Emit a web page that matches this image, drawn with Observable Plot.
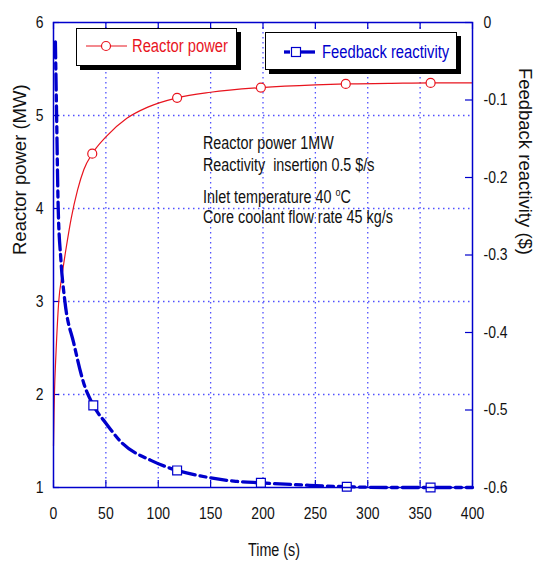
<!DOCTYPE html>
<html><head><meta charset="utf-8">
<script src="https://cdn.jsdelivr.net/npm/d3@7"></script>
<script src="https://cdn.jsdelivr.net/npm/@observablehq/plot@0.6"></script>
<style>
body{margin:0;background:#fff;}
#wrap{position:relative;width:536px;height:567px;overflow:hidden;background:#fff;}
.sq{font-family:"Liberation Sans",Arial,sans-serif;transform:scaleX(0.82);transform-origin:0 50%;}
.box{position:absolute;border:1.5px solid #000;background:#fff;box-shadow:4px 4px 0 #000;box-sizing:border-box;}
.lt{position:absolute;font-size:18px;line-height:20px;white-space:pre;}
.note{position:absolute;left:203px;font-size:17.5px;line-height:20px;color:#111;white-space:pre;}
.note sup{font-size:11px;vertical-align:0;position:relative;top:-7px;}
svg.sym{position:absolute;left:0;top:0;overflow:visible;}
</style></head>
<body><div id="wrap"></div>
<script>
// ---- data ----
const time  = [0, 0.5, 1, 2, 3, 5, 8, 12, 17, 23, 29, 37, 50, 70, 90, 118, 150, 198, 250, 279, 320, 360, 400];
const power = [1.45, 1.8, 2.05, 2.35, 2.6, 3.0, 3.27, 3.57, 3.9, 4.2, 4.42, 4.59, 4.77, 4.97, 5.09, 5.19, 5.25, 5.3, 5.33, 5.34, 5.345, 5.35, 5.35];
const rTime = [1.8, 2.9, 4.5, 7, 10.8, 19.4, 29, 38, 50, 65, 93, 118, 140, 174, 198, 242, 280, 320, 360, 400];
const react = [-0.025, -0.114, -0.24, -0.305, -0.359, -0.414, -0.466, -0.494, -0.517, -0.542, -0.565, -0.578, -0.585, -0.592, -0.594, -0.597, -0.599, -0.6, -0.6, -0.6];
const powerMarkT = [37, 118, 198, 279, 360];
const reactMarkT = [38, 118, 198, 280, 360];
const xTicks = [0, 50, 100, 150, 200, 250, 300, 350, 400];
const yTicks = [1, 2, 3, 4, 5, 6];
const rTicks = [0, -0.1, -0.2, -0.3, -0.4, -0.5, -0.6];
const labels = {x: "Time (s)", yLeft: "Reactor power (MW)", yRight: "Feedback reactivity ($)"};
const legendNames = ["Reactor power", "Feedback reactivity"];
const notes = ["Reactor power 1MW", "Reactivity  insertion 0.5 $/s", "Inlet temperature 40 ", "Core coolant flow rate 45 kg/s"];

// ---- layout ----
const W = 536, H = 567, mL = 53, mR = 64, mT = 22, mB = 80;
const innerW = W - mL - mR, innerH = H - mT - mB;
const blue = "#0000cc", red = "#e8141e", gridC = "#5050ff";
const font = '"Liberation Sans",Arial,sans-serif';
const squeeze = 0.82;
const toP = r => 6 + r * 5 / 0.6;
const rLabel = new Map(rTicks.map(r => [+toP(r).toFixed(6), r === 0 ? "0" : r.toFixed(1)]));

const powerData = time.map((t, i) => ({t, v: power[i]}));
const reactData = rTime.map((t, i) => ({t, v: toP(react[i])}));

const chart = Plot.plot({
  width: W, height: H, marginLeft: mL, marginRight: mR, marginTop: mT, marginBottom: mB,
  style: {fontFamily: font, fontSize: "17px", color: "#111", background: "transparent"},
  x: {domain: [0, 400], label: null},
  y: {domain: [1, 6], label: null},
  marks: [
    Plot.ruleX(xTicks.slice(1, -1), {x: d => d, stroke: gridC, strokeWidth: 1.3, strokeDasharray: "1.5,3.5"}),
    Plot.ruleY(yTicks.slice(1, -1), {y: d => d, stroke: gridC, strokeWidth: 1.3, strokeDasharray: "1.5,3.5"}),
    Plot.tickX(xTicks, {x: d => d, stroke: blue, strokeWidth: 1.2, insetTop: innerH - 7}),
    Plot.tickX(xTicks, {x: d => d, stroke: blue, strokeWidth: 1.2, insetBottom: innerH - 7}),
    Plot.tickY(yTicks, {y: d => d, stroke: blue, strokeWidth: 1.2, insetRight: innerW - 6}),
    Plot.tickY(rTicks.map(toP), {y: d => d, stroke: blue, strokeWidth: 1.2, insetLeft: innerW - 7}),
    Plot.axisX(xTicks, {tickSize: 0, tickPadding: 19, fontSize: 17, label: null, tickFormat: d => String(d)}),
    Plot.axisY(yTicks, {anchor: "left", tickSize: 0, tickPadding: 10, fontSize: 17, label: null, tickFormat: d => String(d)}),
    Plot.axisY(rTicks.map(toP), {anchor: "right", tickSize: 0, tickPadding: 11, fontSize: 17, label: null,
      tickFormat: p => rLabel.get(+p.toFixed(6))}),
    Plot.line(powerData, {x: "t", y: "v", stroke: red, strokeWidth: 1.2, curve: "monotone-x"}),
    Plot.line(reactData, {x: "t", y: "v", stroke: blue, strokeWidth: 3.3, strokeDasharray: "16,5,6,5", curve: "monotone-x"}),
    Plot.dot(powerData.filter(d => powerMarkT.includes(d.t)), {x: "t", y: "v", r: 4.5, stroke: red, strokeWidth: 1.2, fill: "white"}),
    Plot.dot(reactData.filter(d => reactMarkT.includes(d.t)), {x: "t", y: "v", r: 5, symbol: "square", stroke: blue, strokeWidth: 1.2, fill: "white"}),
    Plot.frame({stroke: blue, strokeWidth: 1.5}),
    Plot.text([labels.x], {text: d => d, frameAnchor: "bottom", dx: 11, dy: 68, fontSize: 17.5, fill: "#111"}),
    Plot.text([labels.yLeft], {text: d => d, frameAnchor: "left", dx: -33, rotate: -90, fontSize: 18.5, fill: "#111"}),
    Plot.text([labels.yRight], {text: d => d, frameAnchor: "right", dx: 52, rotate: 90, fontSize: 18.5, fill: "#111"})
  ]
});

const wrap = document.getElementById("wrap");
wrap.appendChild(chart);

// horizontally condense the horizontal texts (the reference uses a narrow face)
chart.querySelectorAll("text").forEach(t => {
  const tr = t.getAttribute("transform") || "";
  const m = tr.match(/rotate\((-?[\d.]+)/);
  if (m && +m[1] !== 0) return;
  const len = t.getComputedTextLength();
  if (len > 0) {
    t.setAttribute("textLength", len * squeeze);
    t.setAttribute("lengthAdjust", "spacingAndGlyphs");
  }
});

// ---- legends ----
function addBox(l, t, w, h) {
  const b = document.createElement("div");
  b.className = "box";
  Object.assign(b.style, {left: l + "px", top: t + "px", width: w + "px", height: h + "px"});
  wrap.appendChild(b);
}
addBox(76, 28, 161, 38);
addBox(265, 32, 192, 38);

const ns = "http://www.w3.org/2000/svg";
const sym = document.createElementNS(ns, "svg");
sym.setAttribute("class", "sym");
sym.setAttribute("width", W); sym.setAttribute("height", H);
sym.innerHTML = `
  <line x1="86" y1="46" x2="127" y2="46" stroke="${red}" stroke-width="1.2"/>
  <circle cx="106" cy="46" r="4.5" stroke="${red}" stroke-width="1.2" fill="white"/>
  <line x1="284" y1="52" x2="290" y2="52" stroke="${blue}" stroke-width="3.3"/>
  <line x1="300" y1="52" x2="315" y2="52" stroke="${blue}" stroke-width="3.3"/>
  <rect x="291.5" y="47.5" width="9" height="9" stroke="${blue}" stroke-width="1.2" fill="white"/>`;
wrap.appendChild(sym);

function addText(txt, l, cy, color) {
  const d = document.createElement("div");
  d.className = "lt sq";
  d.textContent = txt;
  Object.assign(d.style, {left: l + "px", top: (cy - 10) + "px", color});
  wrap.appendChild(d);
}
addText(legendNames[0], 132, 46, red);
addText(legendNames[1], 322, 52, blue);

// ---- annotation ----
const noteCY = [143, 165, 197, 217];
notes.forEach((n, i) => {
  const d = document.createElement("div");
  d.className = "note sq";
  d.style.top = (noteCY[i] - 10) + "px";
  d.textContent = n;
  if (i === 2) {
    const s = document.createElement("sup");
    s.textContent = "o";
    d.appendChild(s);
    d.appendChild(document.createTextNode("C"));
  }
  wrap.appendChild(d);
});
</script>
</body></html>
